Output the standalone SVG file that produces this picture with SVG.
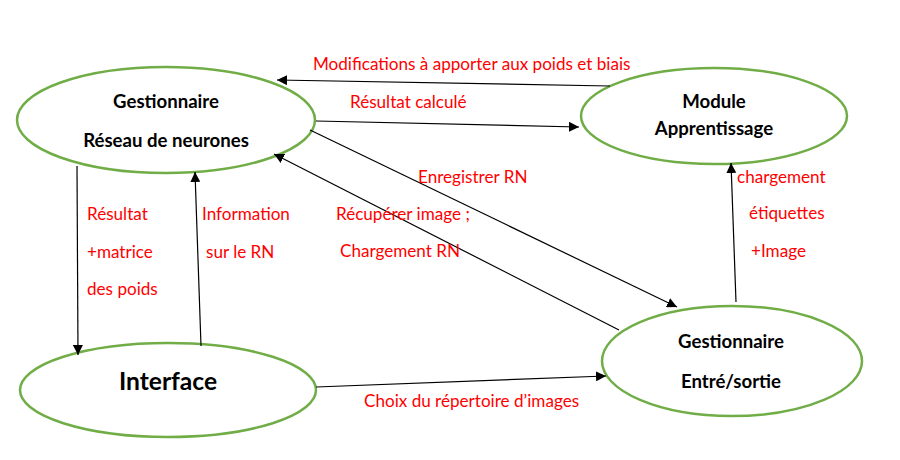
<svg xmlns="http://www.w3.org/2000/svg" width="900" height="460" viewBox="0 0 900 460">
<defs>
<marker id="arr" viewBox="0 0 10 10" refX="10" refY="5" markerWidth="10" markerHeight="10" markerUnits="userSpaceOnUse" orient="auto">
<path d="M0,0 L10,5 L0,10 z" fill="#000"/>
</marker>
<style>
.node{fill:#fff;stroke:#70AD47;stroke-width:2.5}
.nt{font-family:Lato,"Liberation Sans",sans-serif;font-weight:bold;font-size:18.6px;fill:#000;text-anchor:middle}
.lb{font-family:Lato,"Liberation Sans",sans-serif;font-size:17.1px;fill:#FF0000}
.c{stroke:#000;stroke-width:1.2;fill:none;marker-end:url(#arr)}
</style>
</defs>
<rect width="900" height="460" fill="#fff"/>
<g id="n-reseau">
<ellipse class="node" cx="166" cy="120" rx="149" ry="53"/>
<text class="nt" x="166" y="108">Gestionnaire</text>
<text class="nt" x="166" y="147">Réseau de neurones</text>
</g>
<g id="n-module">
<ellipse class="node" cx="714" cy="116" rx="133" ry="48"/>
<text class="nt" x="714" y="108">Module</text>
<text class="nt" x="714" y="135">Apprentissage</text>
</g>
<g id="n-interface">
<ellipse class="node" cx="168" cy="390" rx="148" ry="47"/>
<text class="nt" x="168" y="390" style="font-size:24.6px">Interface</text>
</g>
<g id="n-es">
<ellipse class="node" cx="732" cy="361" rx="130" ry="55"/>
<text class="nt" x="731" y="348">Gestionnaire</text>
<text class="nt" x="731" y="388">Entré/sortie</text>
</g>
<g id="connectors">
<line class="c" x1="610" y1="86" x2="277" y2="80"/>
<line class="c" x1="316" y1="121" x2="579" y2="127"/>
<line class="c" x1="310" y1="130" x2="677" y2="307"/>
<line class="c" x1="619" y1="330" x2="274" y2="154"/>
<line class="c" x1="77" y1="166" x2="78" y2="355"/>
<line class="c" x1="201" y1="346" x2="195" y2="172"/>
<line class="c" x1="316" y1="387" x2="606" y2="376"/>
<line class="c" x1="736" y1="302" x2="731" y2="163"/>
</g>
<g id="labels">
<text class="lb" x="313" y="70">Modifications à apporter aux poids et biais</text>
<text class="lb" x="350" y="108">Résultat calculé</text>
<text class="lb" x="418" y="183">Enregistrer RN</text>
<text class="lb" x="336" y="220">Récupérer image ;</text>
<text class="lb" x="340" y="257">Chargement RN</text>
<text class="lb" x="87" y="220">Résultat</text>
<text class="lb" x="87" y="258">+matrice</text>
<text class="lb" x="87" y="295">des poids</text>
<text class="lb" x="202" y="220">Information</text>
<text class="lb" x="206" y="258">sur le RN</text>
<text class="lb" x="737" y="183">chargement</text>
<text class="lb" x="749" y="219">étiquettes</text>
<text class="lb" x="751" y="257">+Image</text>
<text class="lb" x="364" y="407">Choix du répertoire d’images</text>
</g>
</svg>
